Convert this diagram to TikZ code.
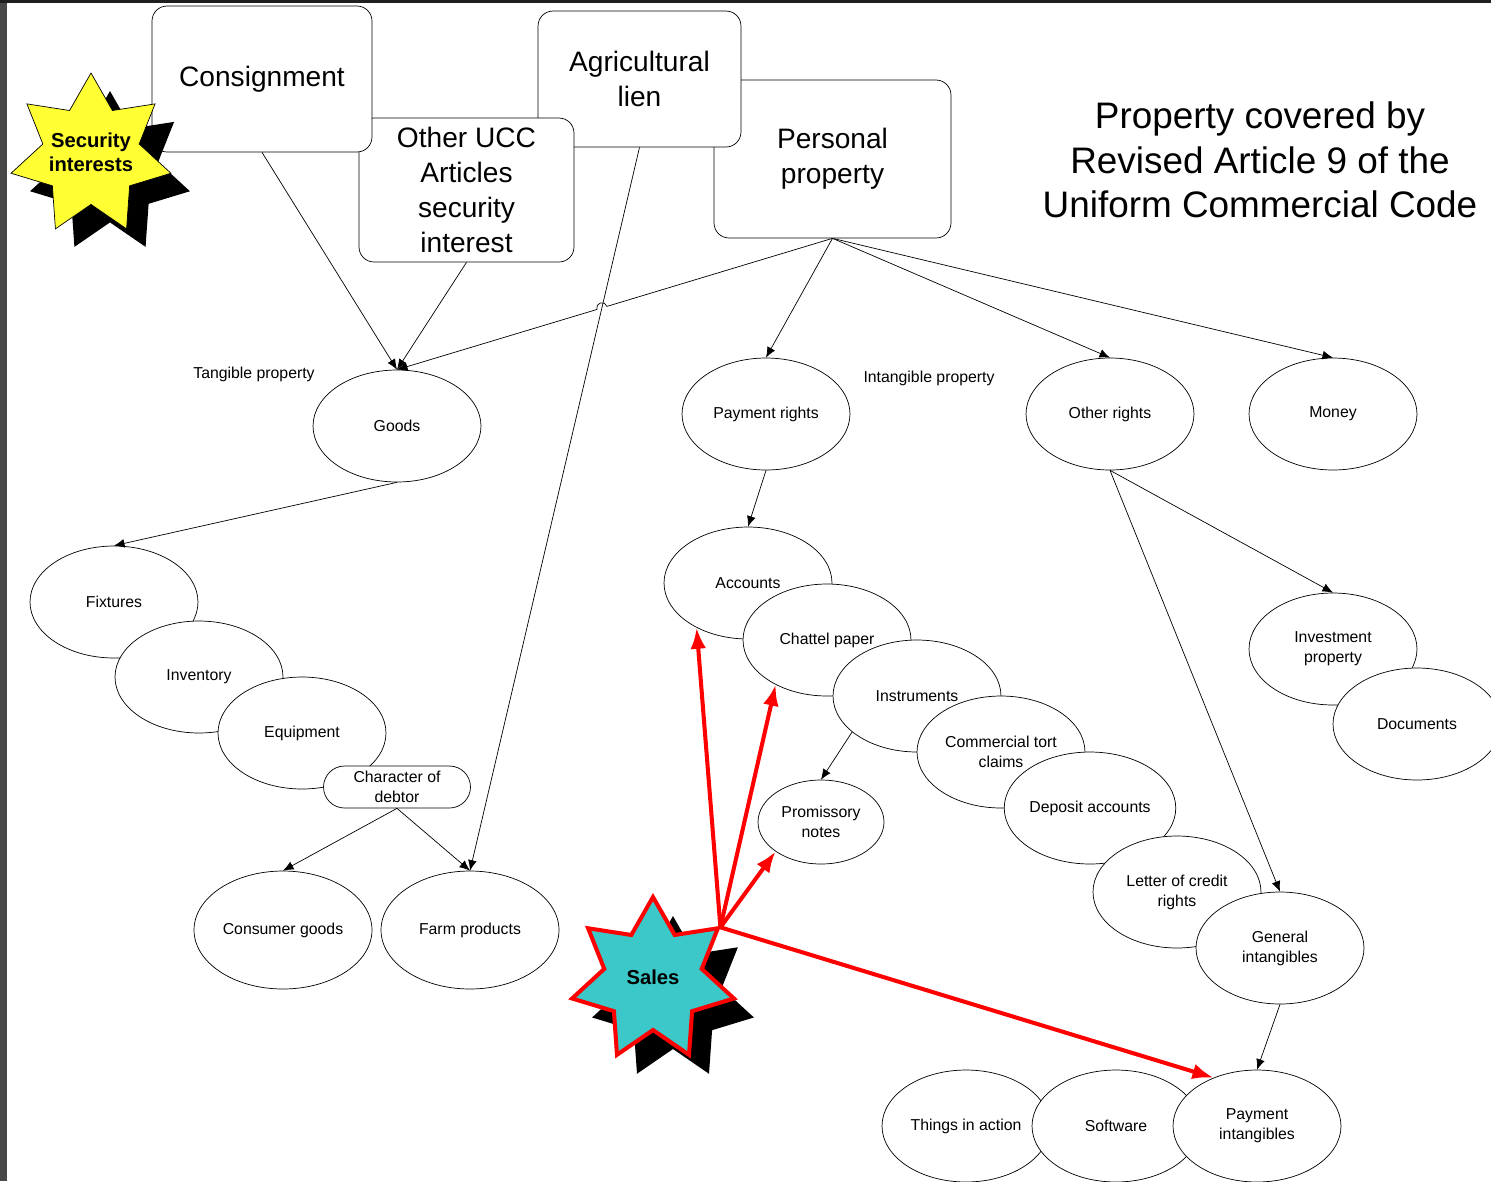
\documentclass[tikz,border=0pt]{standalone}
\usepackage{fontspec}
\setmainfont{Liberation Sans}
\usetikzlibrary{
    arrows.meta,
    shapes.geometric,
    shadows,
    calc
}

\definecolor{staryellow}{RGB}{255,255,51}
\definecolor{salesteal}{RGB}{60,200,200}
\definecolor{framegray}{RGB}{72,72,72}

\tikzset{
    bigbox/.style={draw, fill=white, rounded corners=0.3cm, align=center, inner sep=0pt,
        font=\fontsize{16}{19.8}\selectfont},
    oval/.style={draw, fill=white, ellipse, inner sep=0pt, align=center,
        minimum width=3.36cm, minimum height=2.24cm, font=\fontsize{9}{11.3}\selectfont},
    bigoval/.style={oval, minimum width=3.56cm, minimum height=2.36cm},
    smalloval/.style={oval, minimum width=2.52cm, minimum height=1.68cm},
    tag/.style={font=\fontsize{9}{11.3}\selectfont},
    burst/.style={star, star points=7, star point ratio=1.66, inner sep=0pt},
    bursttext/.style={align=center, font=\fontsize{11.5}{13.6}\selectfont\bfseries},
    arr/.style={-{Latex[length=6pt,width=5pt]}},
    redarr/.style={-{Latex[length=12pt,width=9pt]}, red, line width=2.3pt}
}

\begin{document}
\begin{tikzpicture}[x=0.02cm, y=0.02cm]
    \useasboundingbox (0,0) rectangle (1491,-1181);
    \fill[framegray] (0,0) rectangle (7,-1181);
    \fill[black!88] (0,0) rectangle (1491,-3);

    % article boxes
    \node[bigbox, minimum width=4.74cm, minimum height=3.16cm] (pers) at (832.5,-159) {Personal\\property};
    \node[bigbox, minimum width=4.06cm, minimum height=2.72cm] (agri) at (639.5,-79) {Agricultural\\lien};
    \node[bigbox, minimum width=4.3cm, minimum height=2.88cm] (ucc) at (466.5,-190) {Other UCC\\Articles\\security\\interest};
    \node[bigbox, minimum width=4.4cm, minimum height=2.92cm] (cons) at (262,-79) {Consignment};

    \node[burst, draw, fill=staryellow, minimum size=3.28cm,
        drop shadow={shadow xshift=0.38cm, shadow yshift=-0.36cm, fill=black, opacity=1}] (secint) at (91,-155) {};
    \node[bursttext] (secintlabel) at (91,-152) {Security\\interests};

    \node[align=center, font=\fontsize{21}{25.5}\selectfont] (title) at (1260,-160) {Property covered by\\Revised Article 9 of the\\Uniform Commercial Code};

    % tangible side
    \node[tag] (tangible) at (254,-374) {Tangible property};
    \node[oval] (goods) at (397,-426) {Goods};
    \node[oval] (fixt) at (114,-602) {Fixtures};
    \node[oval] (inv) at (199,-677) {Inventory};
    \node[oval] (equip) at (302,-733) {Equipment};
    \node[draw, fill=white, rounded corners=0.42cm, minimum width=2.94cm, minimum height=0.84cm,
        inner sep=0pt, align=center, tag] (debtor) at (397,-787) {Character of\\debtor};
    \node[bigoval] (consumer) at (283,-930) {Consumer goods};
    \node[bigoval] (farm) at (470,-930) {Farm products};

    % intangible side
    \node[tag] (intangible) at (929,-378) {Intangible property};
    \node[oval] (payrights) at (766,-414) {Payment rights};
    \node[oval] (othrights) at (1110,-414) {Other rights};
    \node[oval] (money) at (1333,-414) {Money};
    \node[oval] (acc) at (748,-583) {Accounts};
    \node[oval] (chattel) at (827,-640) {Chattel paper};
    \node[oval] (instr) at (917,-696) {Instruments};
    \node[oval] (tort) at (1001,-752) {Commercial tort\\claims};
    \node[oval] (deposit) at (1090,-808) {Deposit accounts};
    \node[oval] (letter) at (1177,-892) {Letter of credit\\rights};
    \node[oval] (general) at (1280,-948) {General\\intangibles};
    \node[smalloval] (prom) at (821,-822) {Promissory\\notes};
    \node[oval] (invest) at (1333,-649) {Investment\\property};
    \node[oval] (docs) at (1417,-724) {Documents};
    \node[oval] (things) at (966,-1126) {Things in action};
    \node[oval] (soft) at (1116,-1126) {Software};
    \node[oval] (payint) at (1257,-1126) {Payment\\intangibles};

    % connectors
    \draw
    (cons.south) edge[arr] (goods.north)
    (ucc.south) edge[arr] (goods.north)
    (pers.south) edge[arr] (payrights.north)
    (pers.south) edge[arr] (othrights.north)
    (pers.south) edge[arr] (money.north)
    (agri.south) edge[arr] (farm.north)
    (goods.south) edge[arr] (fixt.north)
    (debtor.south) edge[arr] (consumer.north)
    (debtor.south) edge[arr] (farm.north)
    (payrights.south) edge[arr] (acc.north)
    (instr.209) edge[arr] (prom.north)
    (othrights.south) edge[arr] (invest.north)
    (othrights.south) edge[arr] (general.north)
    (general.south) edge[arr] (payint.north);

    % hop over the lien line
    \coordinate (hop) at (intersection of pers.south--goods.north and agri.south--farm.north);
    \draw[arr] (pers.south) -- ($(hop)!3pt!(pers.south)$) arc[start angle=17, end angle=197, radius=3pt] -- (goods.north);

    \node[burst, draw=red, line width=2.3pt, fill=salesteal, minimum size=3.32cm,
        drop shadow={shadow xshift=0.4cm, shadow yshift=-0.38cm, fill=black, opacity=1}] (sales) at (653,-980) {};
    \node[bursttext] (saleslabel) at (653,-977) {Sales};
    \coordinate (salestip) at (sales.38.57);

    \draw[redarr] (salestip) -- (acc.221);
    \draw[redarr] (salestip) -- (chattel.221);
    \draw[redarr] (salestip) -- (prom.213);
    \draw[redarr] (salestip) -- (payint.132.5);
\end{tikzpicture}
\end{document}
